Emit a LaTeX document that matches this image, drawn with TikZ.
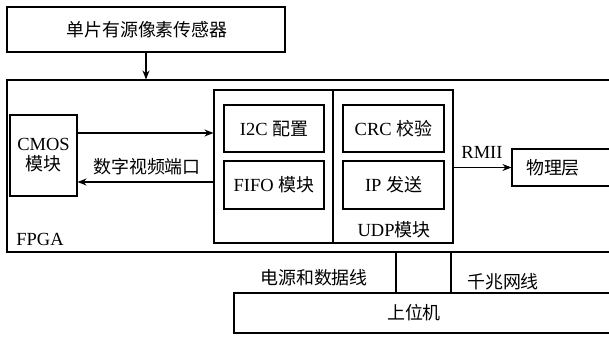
\documentclass[tikz,border=0pt]{standalone}
\usepackage{fontspec}
\setmainfont{Liberation Serif}
\newfontfamily\cjk[Scale=0.97]{Noto Sans CJK SC}
\usetikzlibrary{arrows.meta}
\begin{document}
\begin{tikzpicture}[x=1pt,y=-1pt,
  box/.style={draw,line width=1.1pt,rectangle,inner sep=0pt},
  lbl/.style={inner sep=0pt,font=\fontsize{18.5}{21}\selectfont,align=center},
  arr/.style={line width=1.1pt,-{Stealth[length=9pt,width=7pt]}},
  wire/.style={line width=1.1pt}]
\useasboundingbox (0,0) rectangle (609,337);
\clip (0,0) rectangle (609,337);
\fill[white] (0,0) rectangle (609,337);
% boxes
\node[box,minimum width=278pt,minimum height=45pt] (sensor) at (146,29.5) {};
\node[lbl] (sensorT) at (147,29.5) {\cjk 单片有源像素传感器};
\node[box,minimum width=613pt,minimum height=172pt] (fpga) at (313.5,166) {};
\node[lbl] (fpgaT) at (40,239) {FPGA};
\node[box,minimum width=67pt,minimum height=81pt] (cmos) at (43.5,155.5) {};
\node[lbl] (cmosT) at (43.5,155.5) {CMOS\\[-1pt]{\cjk 模块}};
\node[box,minimum width=239pt,minimum height=153pt] (inner) at (333.5,166.5) {};
\coordinate (divT) at (333,90);
\coordinate (divB) at (333,243);
\draw[wire] (divT) -- (divB);
\node[box,minimum width=100pt,minimum height=47pt] (i2c) at (274,128.5) {};
\node[lbl] (i2cT) at (274,128.5) {I2C {\cjk 配置}};
\node[box,minimum width=101pt,minimum height=47pt] (crc) at (393.5,128.5) {};
\node[lbl] (crcT) at (393.5,128.5) {CRC {\cjk 校验}};
\node[box,minimum width=100pt,minimum height=48pt] (fifo) at (274,185) {};
\node[lbl] (fifoT) at (274,185) {FIFO {\cjk 模块}};
\node[box,minimum width=101pt,minimum height=48pt] (ip) at (393.5,185) {};
\node[lbl] (ipT) at (393.5,185) {IP {\cjk 发送}};
\node[lbl] (udpT) at (394,230) {UDP{\cjk 模块}};
\node[box,minimum width=108pt,minimum height=37pt] (phy) at (566,167.5) {};
\node[lbl] (phyT) at (553,167.5) {\cjk 物理层};
\node[box,minimum width=386pt,minimum height=40pt] (host) at (427,313) {};
\node[lbl] (hostT) at (414,313) {\cjk 上位机};
% connectors
\draw[arr] (sensor.south) -- (sensor.south |- fpga.north);
\draw[arr] (cmos.east |- 0,133) -- (inner.west |- 0,133);
\draw[arr] (inner.west |- 0,182) -- (cmos.east |- 0,182);
\node[lbl] (vidT) at (147,167) {\cjk 数字视频端口};
\draw[arr] (inner.east |- phy.west) -- (phy.west);
\node[lbl] (rmiiT) at (482,152) {RMII};
\draw[wire] (fpga.south -| 396,0) -- (host.north -| 396,0);
\draw[wire] (fpga.south -| 451,0) -- (host.north -| 451,0);
\node[lbl] (pwrT) at (314,278) {\cjk 电源和数据线};
\node[lbl] (gigT) at (503,282) {\cjk 千兆网线};
\end{tikzpicture}
\end{document}
